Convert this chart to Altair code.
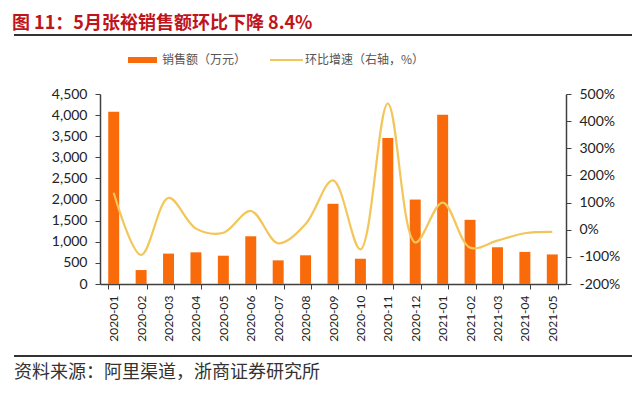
import altair as alt
import pandas as pd

months = ["2020-01", "2020-02", "2020-03", "2020-04", "2020-05", "2020-06", "2020-07",
          "2020-08", "2020-09", "2020-10", "2020-11", "2020-12", "2021-01", "2021-02",
          "2021-03", "2021-04", "2021-05"]
sales = [4080, 330, 720, 750, 670, 1130, 560, 680, 1900, 600, 3460, 2000, 4010, 1520, 870, 760, 700]
growth = [136, -93, 117, 4, -11, 69, -50, 21, 182, -72, 465, -47, 100, -66, -40, -13, -8]

title_text = "图 11：5月张裕销售额环比下降 8.4%"
legend_bar = "销售额（万元）"
legend_line = "环比增速（右轴，%）"
source_text = "资料来源：阿里渠道，浙商证券研究所"

df = pd.DataFrame({"month": months, "sales": sales, "growth": growth})

BAR = "#F96A0A"
LINE = "#F2C65A"
AX = "#404040"
CJK = "Noto Sans CJK SC"

x = alt.X("month:N", sort=months, title=None,
          scale=alt.Scale(paddingInner=0.6, paddingOuter=0.3),
          axis=alt.Axis(labelAngle=-90, labelFont="Lato", labelFontSize=12, labelColor="#222",
                        domainColor=AX, tickColor=AX, tickSize=5, tickBand="extent",
                        labelPadding=6, domainWidth=1.5))

bars = alt.Chart(df).mark_bar(color=BAR).encode(
    x=x,
    y=alt.Y("sales:Q", title=None,
            scale=alt.Scale(domain=[0, 4500]),
            axis=alt.Axis(values=list(range(0, 4501, 500)), format=",.0f", orient="left",
                          labelFont="Lato", labelFontSize=14, labelColor="#222",
                          domainColor=AX, tickColor=AX, tickSize=5, labelPadding=8,
                          grid=False, domainWidth=1.5))
)

line = alt.Chart(df).mark_line(color=LINE, strokeWidth=2.2, interpolate="catmull-rom").encode(
    x=x,
    y=alt.Y("growth:Q", title=None,
            scale=alt.Scale(domain=[-200, 500]),
            axis=alt.Axis(values=list(range(-200, 501, 100)), orient="right",
                          labelExpr="datum.value + '%'",
                          labelFont="Lato", labelFontSize=14, labelColor="#222",
                          domainColor=AX, tickColor=AX, tickSize=5, labelPadding=8,
                          grid=False, domainWidth=1.5))
)

one = pd.DataFrame({"a": [0]})

title = alt.Chart(one).mark_text(align="left", baseline="middle", font=CJK, fontSize=18,
                                  fontWeight="bold", color="#C0141C").encode(
    x=alt.value(-88), y=alt.value(-70), text=alt.value(title_text))

rule_top = alt.Chart(one).mark_rule(color="#333", strokeWidth=2).encode(
    x=alt.value(-86), x2=alt.value(540), y=alt.value(-59))

rule_bot = alt.Chart(one).mark_rule(color="#333", strokeWidth=2).encode(
    x=alt.value(-86), x2=alt.value(540), y=alt.value(262))

source = alt.Chart(one).mark_text(align="left", baseline="middle", font=CJK, fontSize=18,
                                   color="#333").encode(
    x=alt.value(-86), y=alt.value(279), text=alt.value(source_text))

leg_rect = alt.Chart(one).mark_rect(color=BAR).encode(
    x=alt.value(28), x2=alt.value(57), y=alt.value(-37), y2=alt.value(-31))

leg_bar_t = alt.Chart(one).mark_text(align="left", baseline="middle", font=CJK, fontSize=12,
                                      color="#555").encode(
    x=alt.value(62), y=alt.value(-34), text=alt.value(legend_bar))

leg_line = alt.Chart(one).mark_rule(color=LINE, strokeWidth=2.2).encode(
    x=alt.value(170), x2=alt.value(203), y=alt.value(-34))

leg_line_t = alt.Chart(one).mark_text(align="left", baseline="middle", font=CJK, fontSize=12,
                                       color="#555").encode(
    x=alt.value(205), y=alt.value(-34), text=alt.value(legend_line))

chart = alt.layer(
    bars, line, title, rule_top, rule_bot, source, leg_rect, leg_bar_t, leg_line, leg_line_t
).resolve_scale(y="independent").properties(
    width=466, height=190,
    padding={"left": 92, "top": 86, "right": 66, "bottom": 106},
    autosize=alt.AutoSizeParams(type="none"),
    background="white",
).configure_view(stroke=None)

chart.save("out.html", embed_options={"renderer": "svg", "actions": False})
